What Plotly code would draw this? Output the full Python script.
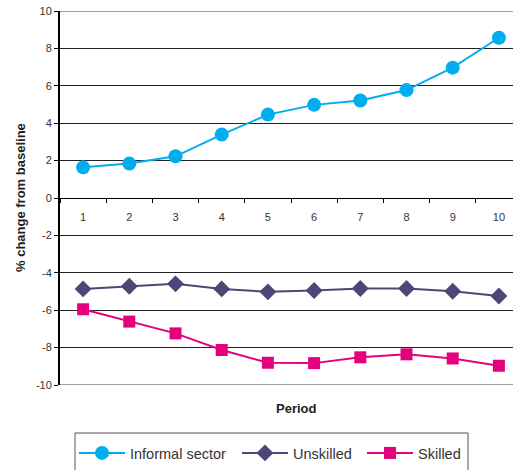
import plotly.graph_objects as go

periods = ["1", "2", "3", "4", "5", "6", "7", "8", "9", "10"]
informal = [1.64, 1.84, 2.23, 3.39, 4.46, 4.98, 5.21, 5.77, 6.97, 8.57]
unskilled = [-4.86, -4.72, -4.59, -4.86, -5.02, -4.95, -4.84, -4.84, -4.99, -5.24]
skilled = [-5.95, -6.61, -7.24, -8.13, -8.81, -8.83, -8.52, -8.36, -8.58, -8.97]
y_ticks = [-10, -8, -6, -4, -2, 0, 2, 4, 6, 8, 10]
y_tick_text = [str(v) for v in y_ticks]

FONT = "Liberation Sans, Arial, sans-serif"

fig = go.Figure()
fig.add_trace(go.Scatter(x=periods, y=informal, name="Informal sector", mode="lines+markers",
                         line=dict(color="#00aeef", width=2), legend="legend",
                         marker=dict(symbol="circle", size=14, color="#00aeef")))
fig.add_trace(go.Scatter(x=periods, y=unskilled, name="Unskilled", mode="lines+markers",
                         line=dict(color="#4b4878", width=2), legend="legend2",
                         marker=dict(symbol="diamond", size=13, color="#4b4878")))
fig.add_trace(go.Scatter(x=periods, y=skilled, name="Skilled", mode="lines+markers",
                         line=dict(color="#e6007e", width=2), legend="legend3",
                         marker=dict(symbol="square", size=12, color="#e6007e")))

leg_common = dict(orientation="h", xanchor="left", yanchor="middle", y=-0.1818,
                  bgcolor="rgba(0,0,0,0)", borderwidth=0, itemwidth=46,
                  font=dict(size=14.5, color="#333333"))

fig.update_layout(
    width=513, height=470,
    margin=dict(l=60, r=0, t=11, b=85, autoexpand=False),
    paper_bgcolor="white", plot_bgcolor="white",
    font=dict(family=FONT, size=11, color="#333333"),
    showlegend=True,
    legend=dict(x=0.0309, **leg_common),
    legend2=dict(x=0.3907, **leg_common),
    legend3=dict(x=0.6667, **leg_common),
    xaxis=dict(type="category", categoryorder="array", categoryarray=periods,
               range=[-0.5, 9.305], anchor="free", position=0.5, automargin=False,
               showline=True, linecolor="#000000", linewidth=1,
               ticks="outside", tickson="boundaries", ticklen=4, tickcolor="#000000",
               showgrid=False, zeroline=False, ticklabelstandoff=9,
               tickfont=dict(size=11, color="#333333")),
    yaxis=dict(range=[-10, 10], tickvals=y_ticks, ticktext=y_tick_text, domain=[0, 1],
               automargin=False,
               showline=True, linecolor="#000000", linewidth=2,
               ticks="outside", ticklen=4, tickcolor="#000000",
               showgrid=True, gridcolor="#222222", gridwidth=1,
               zeroline=False, tickfont=dict(size=11, color="#333333")),
    shapes=[
        dict(type="line", xref="paper", yref="y", x0=0, x1=1, y0=10, y1=10,
             line=dict(color="#a0a0a0", width=2)),
        dict(type="line", xref="paper", yref="y", x0=0, x1=1, y0=-10, y1=-10,
             line=dict(color="#a0a0a0", width=2)),
        # legend frame (bottom edge runs off the page, as in the reference)
        dict(type="rect", xref="paper", yref="paper",
             x0=(75 - 60) / 453, x1=(468 - 60) / 453,
             y0=(385 - 480) / 374, y1=(385 - 433) / 374,
             line=dict(color="#555555", width=1), fillcolor="rgba(0,0,0,0)"),
    ],
    annotations=[
        dict(text="<b>% change from baseline</b>", xref="paper", yref="paper",
             x=-0.0883, y=0.5, xanchor="center", yanchor="middle", textangle=-90,
             showarrow=False, font=dict(size=13, color="#222222")),
        dict(text="<b>Period</b>", xref="paper", yref="paper",
             x=0.521, y=-0.0615, xanchor="center", yanchor="middle",
             showarrow=False, font=dict(size=13, color="#222222")),
    ],
)

fig.write_html("out.html", config={"displayModeBar": False},
               post_script="document.body.style.margin='0';document.body.style.overflow='hidden';")
